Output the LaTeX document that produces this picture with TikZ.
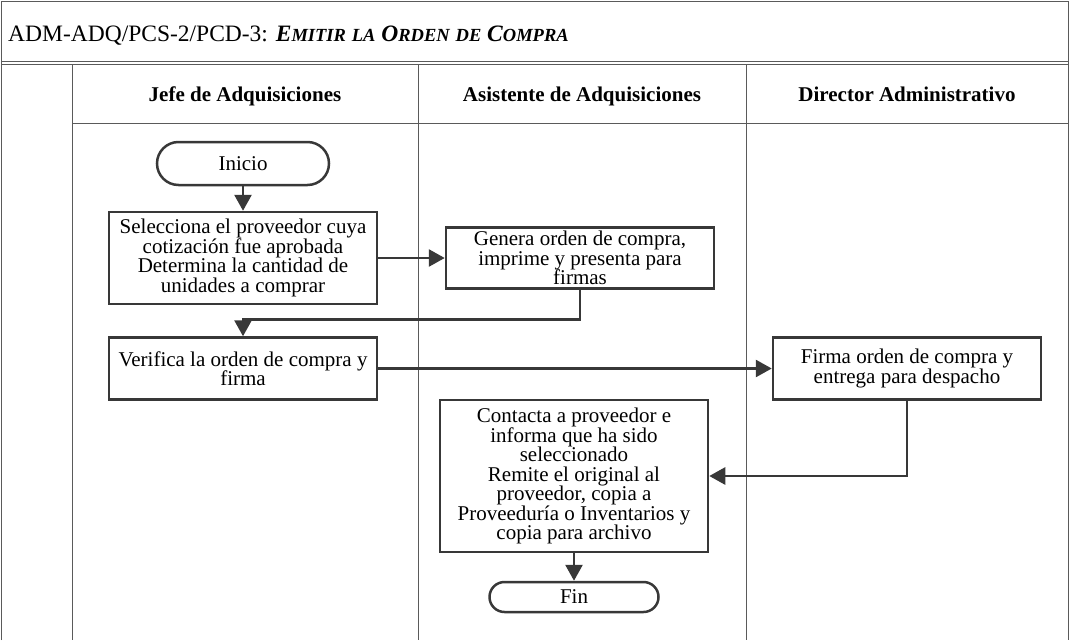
\documentclass[tikz,border=0pt]{standalone}
\usepackage{fontspec}
\setmainfont{Liberation Serif}
\usetikzlibrary{arrows.meta}
\definecolor{lanegray}{HTML}{5A5A5A}
\definecolor{boxgray}{HTML}{383838}
\newcommand{\fakesc}[2]{#1{\fontsize{18.5}{18.5}\selectfont #2}}
\tikzset{
  lane/.style={draw=lanegray, line width=1pt},
  tbox/.style={draw=boxgray, line width=2.5pt, fill=white, inner sep=0pt, align=center,
    minimum width=268pt, font=\fontsize{21}{19.5}\selectfont},
  term/.style={draw=boxgray, line width=2.5pt, fill=white, inner sep=0pt, align=center,
    font=\fontsize{21}{19.5}\selectfont},
  arr/.style={draw=boxgray, line width=2.7pt, -{Triangle[length=16pt,width=17pt]}},
  hdr/.style={font=\fontsize{21}{21}\selectfont\bfseries, inner sep=0pt, anchor=base},
}
\begin{document}
\begin{tikzpicture}[x=1pt,y=-1pt]
\useasboundingbox (0,0) rectangle (1070,640);
\fill[white] (0,0) rectangle (1070,640);
% frame
\draw[lane] (1.5,640) -- (1.5,1.5) -- (1068,1.5) -- (1068,640);
\draw[lane] (1.5,61) -- (1068,61);
\draw[lane] (1.5,64) -- (1068,64);
\draw[lane] (72,64) -- (72,640);
\draw[lane] (418,64) -- (418,640);
\draw[lane] (746,64) -- (746,640);
\draw[lane] (72,123) -- (1068,123);
% title
\node[anchor=base west, inner sep=0pt, font=\fontsize{23.5}{23.5}\selectfont] (title) at (8,41)
  {ADM-ADQ/PCS-2/PCD-3: {\bfseries\itshape \fakesc{E}{MITIR} \fakesc{}{LA} \fakesc{O}{RDEN} \fakesc{}{DE} \fakesc{C}{OMPRA}}};
% headers
\node[hdr] (h1) at (245,101) {Jefe de Adquisiciones};
\node[hdr] (h2) at (582,101) {Asistente de Adquisiciones};
\node[hdr] (h3) at (907,101) {Director Administrativo};
% nodes
\node[term, minimum width=172pt, minimum height=43pt, rounded corners=21.5pt] (ini) at (243,163.5) {Inicio};
\node[tbox, minimum height=92pt] (b1) at (243,258) {Selecciona el proveedor cuya\\cotización fue aprobada\\Determina la cantidad de\\unidades a comprar};
\node[tbox, minimum height=61pt] (b2) at (580,258) {Genera orden de compra,\\imprime y presenta para\\firmas};
\node[tbox, minimum height=62pt] (ver) at (243,368.5) {Verifica la orden de compra y\\firma};
\node[tbox, minimum height=62pt] (fir) at (907,368.5) {Firma orden de compra y\\entrega para despacho};
\node[tbox, minimum height=152pt] (con) at (574,476) {Contacta a proveedor e\\informa que ha sido\\seleccionado\\Remite el original al\\proveedor, copia a\\Proveeduría o Inventarios y\\copia para archivo};
\node[term, minimum width=169pt, minimum height=30pt, rounded corners=15pt] (fin) at (574,597) {Fin};
% connectors
\draw[arr] (ini) -- (b1);
\draw[arr] (b1) -- (b2);
\draw[arr] (b2.south) -- ++(0,30) -| (ver.north);
\draw[arr] (ver) -- (fir);
\draw[arr] (fir.south) |- (con.east);
\draw[arr] (con) -- (fin);
\end{tikzpicture}
\end{document}
